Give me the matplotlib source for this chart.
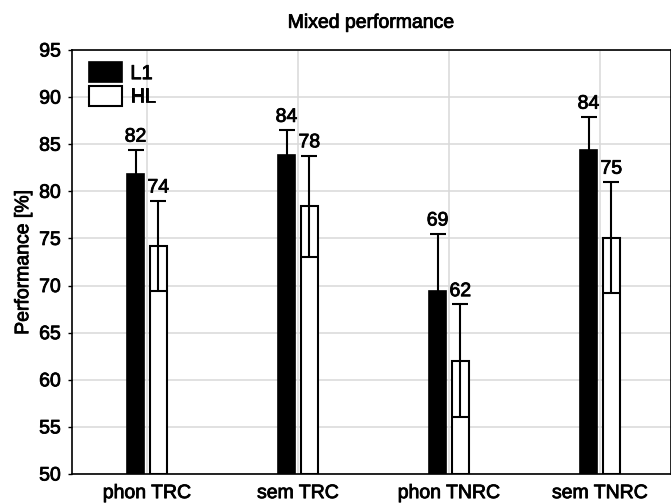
import matplotlib
matplotlib.use("Agg")
import matplotlib.pyplot as plt
import matplotlib.patheffects as pe
import numpy as np

plt.rcParams['font.family'] = ['Liberation Sans', 'DejaVu Sans']

categories = ["phon TRC", "sem TRC", "phon TNRC", "sem TNRC"]
l1_mean = [81.8, 83.9, 69.4, 84.4]
l1_sd = [2.6, 2.6, 6.1, 3.5]
hl_mean = [74.2, 78.4, 62.0, 75.1]
hl_sd = [4.8, 5.4, 6.0, 5.9]
series_names = ["L1", "HL"]

heavy = [pe.withStroke(linewidth=0.6, foreground='black')]

fig = plt.figure(figsize=(6.71, 5.04), dpi=100)
ax = fig.add_axes([72/671, 30/504, 599/671, 424/504])

x = np.arange(len(categories))
bw1, bw2 = 0.117, 0.11
x1 = x - 0.076
x2 = x + 0.075

ax.bar(x1, [m - 50 for m in l1_mean], bottom=50, width=bw1, color='black',
       edgecolor='black', linewidth=1.2, zorder=3, label=series_names[0])
ax.bar(x2, [m - 50 for m in hl_mean], bottom=50, width=bw2, color='white',
       edgecolor='black', linewidth=1.5, zorder=3, label=series_names[1])

ax.errorbar(x1, l1_mean, yerr=l1_sd, fmt='none', ecolor='black',
            elinewidth=1.5, capsize=5.8, capthick=1.5, zorder=4)
ax.errorbar(x2, hl_mean, yerr=hl_sd, fmt='none', ecolor='black',
            elinewidth=1.5, capsize=5.5, capthick=1.5, zorder=4)

for xi, m, s in zip(x1, l1_mean, l1_sd):
    ax.text(xi, m + s + 0.45, f"{m:.0f}", ha='center', va='bottom', fontsize=14,
            path_effects=heavy)
for xi, m, s in zip(x2, hl_mean, hl_sd):
    ax.text(xi, m + s + 0.45, f"{m:.0f}", ha='center', va='bottom', fontsize=14,
            path_effects=heavy)

ax.set_xlim(-0.497, 3.47)
ax.set_ylim(50, 95)
ax.set_yticks(np.arange(50, 96, 5))
ax.set_xticks(x)
ax.set_xticklabels(categories, fontsize=14)
ax.tick_params(axis='y', labelsize=14, length=3, width=1, direction='out', pad=5)
ax.tick_params(axis='x', length=0, pad=8)
ax.grid(True, color='#d9d9d9', linewidth=1.1, zorder=0)
ax.set_axisbelow(True)
for sp in ax.spines.values():
    sp.set_linewidth(1.2)
    sp.set_color('black')

ax.set_ylabel("Performance [%]", fontsize=14, labelpad=5)
ax.set_title("Mixed performance", fontsize=14, pad=16)

leg = ax.legend(loc='upper left', bbox_to_anchor=(0.0284, 0.971), frameon=False,
                fontsize=14.5, handlelength=1.65, handleheight=1.15,
                handletextpad=0.4, labelspacing=0.12, borderpad=0, borderaxespad=0)

for t in ax.get_xticklabels() + ax.get_yticklabels() + leg.get_texts() + \
        [ax.title, ax.yaxis.label]:
    t.set_path_effects(heavy)

fig.savefig("out.png", dpi=100)
